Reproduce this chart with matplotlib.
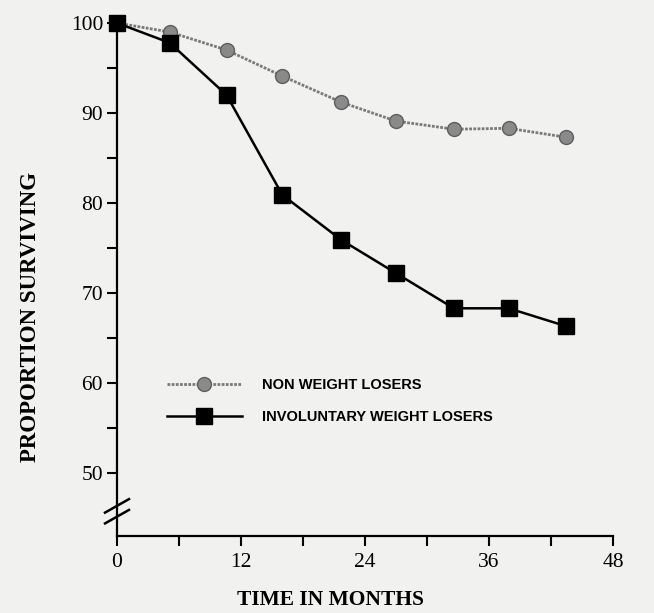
import matplotlib
matplotlib.use("Agg")
import matplotlib.pyplot as plt

# values
months = [0, 5.1, 10.6, 16.0, 21.7, 27.0, 32.6, 37.9, 43.5]
non_losers = [100, 99.0, 97.0, 94.1, 91.2, 89.1, 88.2, 88.3, 87.3]
invol_losers = [100, 97.8, 92.0, 80.9, 75.9, 72.2, 68.3, 68.3, 66.3]

x_ticks = [0, 12, 24, 36, 48]
x_minor = [6, 18, 30, 42]
y_ticks = [50, 60, 70, 80, 90, 100]
y_minor = [55, 65, 75, 85, 95]

bg = "#f1f1ef"
serif = "Liberation Serif"
sans = "Liberation Sans"

fig = plt.figure(figsize=(6.54, 6.13), dpi=100, facecolor=bg)
ax = fig.add_axes([0.1789, 0.1256, 0.7584, 0.8589])
ax.set_facecolor(bg)

ax.plot(months, non_losers, color="#7a7a7a", lw=2.0, ls=(0, (1, 0.5)),
        marker="o", ms=10, mfc="#8a8a8a", mec="#5e5e5e", mew=1.0,
        clip_on=False, zorder=3, label="NON WEIGHT LOSERS")
ax.plot(months, invol_losers, color="black", lw=1.8,
        marker="s", ms=11, mfc="black", mec="black",
        clip_on=False, zorder=4, label="INVOLUNTARY WEIGHT LOSERS")

ax.set_xlim(0, 48)
ax.set_ylim(43, 101.5)
for s in ["top", "right"]:
    ax.spines[s].set_visible(False)
ax.spines["left"].set_bounds(43, 100)
ax.spines["left"].set_linewidth(1.6)
ax.spines["bottom"].set_linewidth(1.6)

ax.set_xticks(x_ticks)
ax.set_xticks(x_minor, minor=True)
ax.set_yticks(y_ticks)
ax.set_yticks(y_minor, minor=True)
ax.tick_params(which="both", direction="out", width=1.5, color="black")
ax.tick_params(axis="x", which="both", length=7, pad=5)
ax.tick_params(axis="y", which="major", length=7, pad=3)
ax.tick_params(axis="y", which="minor", length=7)
for lab in ax.get_xticklabels() + ax.get_yticklabels():
    lab.set_fontfamily(serif)
    lab.set_fontsize(15.5)

# axis break marks
for y0 in [45.6, 44.4]:
    ax.plot([-1.16, 1.16], [y0, y0 + 1.5], color="black", lw=1.8, clip_on=False, zorder=5)

fig.text(0.506, 0.021, "TIME IN MONTHS", family=serif, weight="bold",
         fontsize=15.5, ha="center", va="center")
fig.text(0.046, 0.483, "PROPORTION SURVIVING", family=serif, weight="bold",
         fontsize=16.5, ha="center", va="center", rotation=90)

leg = ax.legend(loc="center left", bbox_to_anchor=(160 / 654, 1 - 401 / 613),
                bbox_transform=fig.transFigure, frameon=False, borderpad=0,
                handlelength=5.1, handletextpad=1.4, labelspacing=1.2,
                prop={"family": sans, "size": 10.5})
for t in leg.get_texts():
    t.set_fontweight("bold")

fig.savefig("out.png", dpi=100, facecolor=bg)
